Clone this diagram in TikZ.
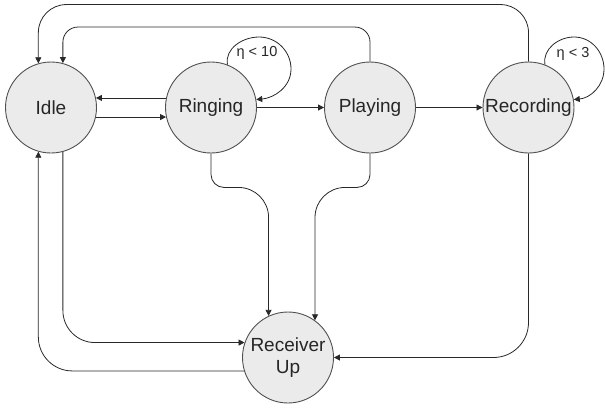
\documentclass[tikz,border=0pt]{standalone}
\usepackage{fontspec}
\setmainfont{Liberation Sans}
\usetikzlibrary{arrows.meta,calc}
\definecolor{nodefill}{RGB}{235,235,235}
\definecolor{nodeline}{RGB}{80,80,80}
\definecolor{edgeline}{RGB}{40,40,40}
\begin{document}
\begin{tikzpicture}[x=1pt,y=-1pt,
  state/.style={circle,draw=nodeline,fill=nodefill,line width=0.9pt,minimum size=91pt,inner sep=0pt,
    font=\fontsize{19}{22}\selectfont,text=black!85,align=center},
  edge/.style={draw=edgeline,line width=0.8pt},
  arr/.style={edge,-{Triangle[length=6pt,width=6pt]}},
  lbl/.style={font=\fontsize{14.5}{16}\selectfont,text=black!85,inner sep=0pt}]
\useasboundingbox (0,0) rectangle (605,408);
\node[state] (Idle) at (51,107.5) {Idle};
\node[state] (Ring) at (211,107.5) {Ringing};
\node[state] (Play) at (370,107.5) {Playing};
\node[state] (Rec) at (528.5,107.5) {Recording};
\node[state] (Recv) at (288,357.5) {Receiver\\Up};
\node[lbl] (l10) at (257,53) {η < 10};
\node[lbl] (l3) at (573,54) {η < 3};
% self loops
\draw[arr] (Ring.69) to[out=100,in=180] (259,37) to[out=0,in=90] (291,69) to[out=-90,in=5] (Ring.10);
\draw[arr] (Rec.69) to[out=100,in=180] (574,37) to[out=0,in=90] (604,69) to[out=-90,in=5] (Rec.10);
% horizontal transitions
\draw[arr] (Ring.168) -- (Idle.12);
\draw[arr] (Idle.-12) -- (Ring.192);
\draw[arr] (Ring.east) -- (Play.west);
\draw[arr] (Play.east) -- (Rec.west);
% top returns to Idle
\draw[arr,rounded corners=28pt] (Rec.north) -- ++(0,-57) -| (Idle.106);
\draw[arr,rounded corners=15pt] (Play.north) -- ++(0,-34.5) -| (Idle.75);
% into Receiver Up
\coordinate (rb) at ($(Ring.south)+(0,34)$);
\coordinate (pb) at ($(Play.south)+(0,34)$);
\draw[edge,rounded corners=13pt] (Ring.south) -- (rb) -- ++(26,0);
\draw[arr,rounded corners=30pt] ($(rb)+(25,0)$) -| (Recv.115);
\draw[edge,rounded corners=13pt] (Play.south) -- (pb) -- ++(-26,0);
\draw[arr,rounded corners=30pt] ($(pb)+(-25,0)$) -| (Recv.54);
\draw[arr,rounded corners=32pt] (Idle.-75) |- (Recv.161);
\draw[arr,rounded corners=35pt] (Rec.south) |- (Recv.east);
\draw[arr,rounded corners=34pt] (Recv.197) -| (Idle.254);
\end{tikzpicture}
\end{document}
